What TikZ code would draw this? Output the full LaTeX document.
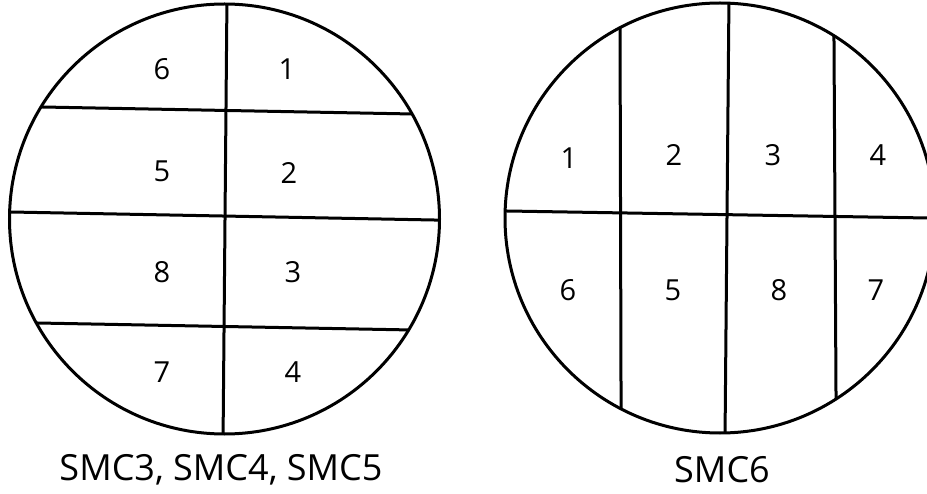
\documentclass[tikz,border=0pt]{standalone}
\usepackage{fontspec}
\setmainfont{Open Sans}
\usepackage{tikz}

\tikzset{
  rim/.style={line width=3pt},
  cut/.style={line width=3pt},
  zone/.style={font=\fontsize{29}{29}\selectfont, inner sep=0pt},
  caption/.style={font=\fontsize{36}{36}\selectfont, inner sep=0pt}
}

\begin{document}
\begin{tikzpicture}[x=1pt, y=-1pt]
  \clip (0,0) rectangle (927,494);
  \fill[white] (0,0) rectangle (927,494);

  % Left disc: SMC3, SMC4, SMC5
  \begin{scope}
    \clip (224.5,219) circle (215);
    \draw[cut] (227,-5) -- (223,445);
    \draw[cut] (0,106.2) -- (450,114.7);
    \draw[cut] (0,211.8) -- (450,220.3);
    \draw[cut] (0,322.3) -- (450,330.7);
  \end{scope}
  \draw[rim] (224.5,219) circle (215);
  \node[zone] (l6) at (162,69) {6};
  \node[zone] (l1) at (287,69) {1};
  \node[zone] (l5) at (162,171) {5};
  \node[zone] (l2) at (289,173) {2};
  \node[zone] (l8) at (162,272) {8};
  \node[zone] (l3) at (293,272) {3};
  \node[zone] (l7) at (162,372) {7};
  \node[zone] (l4) at (293,372) {4};
  \node[caption] (capl) at (221,470) {SMC3, SMC4, SMC5};

  % Right disc: SMC6
  \begin{scope}
    \clip (720,218) circle (215);
    \draw[cut] (495,210.8) -- (940,218.2);
    \draw[cut] (620,15) -- (621.1,420);
    \draw[cut] (729,-5) -- (725,440);
    \draw[cut] (833.9,25) -- (836.1,410);
  \end{scope}
  \draw[rim] (720,218) circle (215);
  \node[zone] (r1) at (569,158) {1};
  \node[zone] (r2) at (674,155) {2};
  \node[zone] (r3) at (773,155) {3};
  \node[zone] (r4) at (878,155) {4};
  \node[zone] (r6) at (568,290) {6};
  \node[zone] (r5) at (673,290) {5};
  \node[zone] (r8) at (779,290) {8};
  \node[zone] (r7) at (876,290) {7};
  \node[caption] (capr) at (722,470) {SMC6};
\end{tikzpicture}
\end{document}
